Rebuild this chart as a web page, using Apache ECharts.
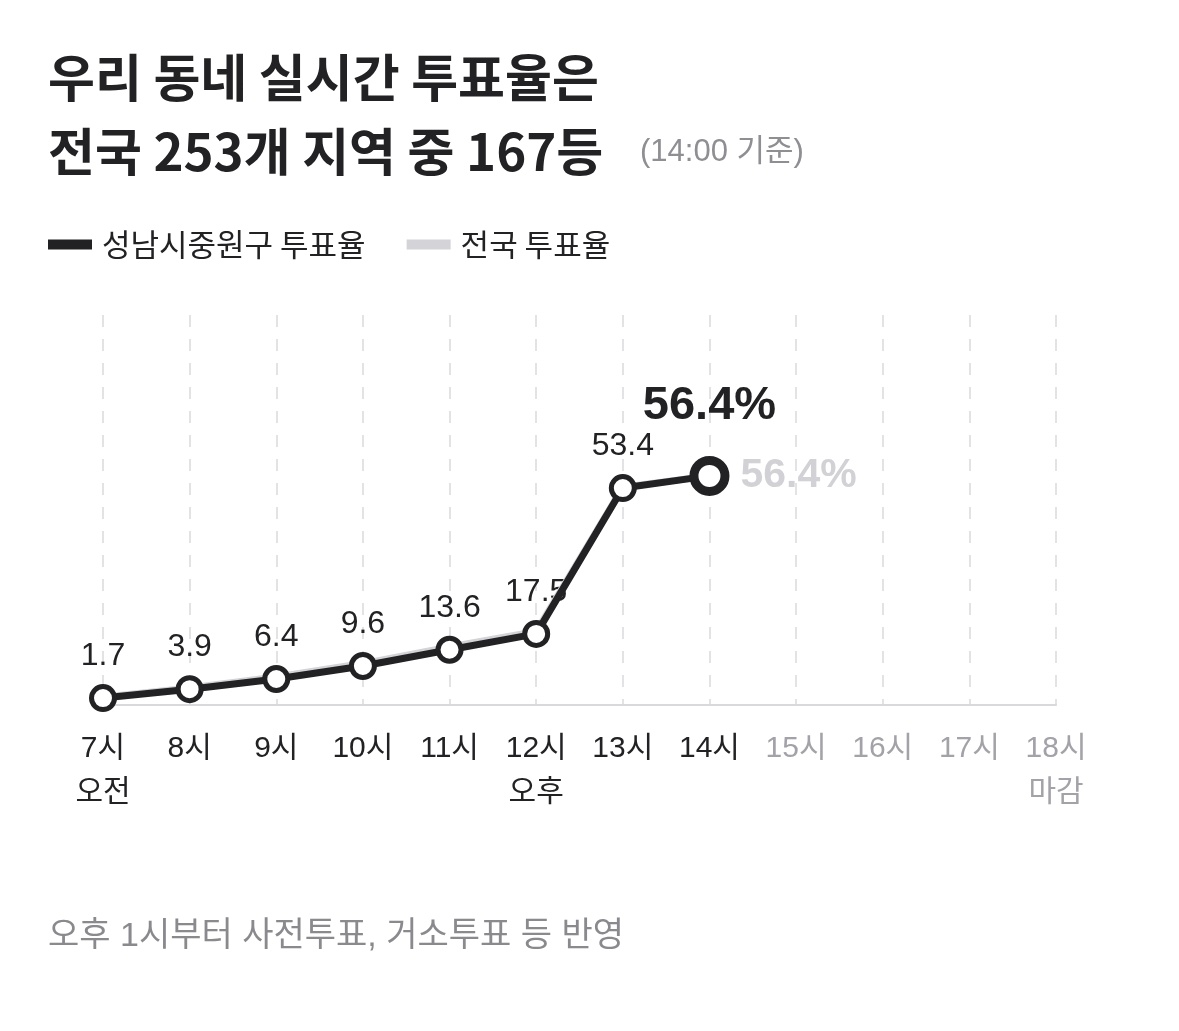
<!DOCTYPE html>
<html>
<head>
<meta charset="utf-8">
<script src="https://cdn.jsdelivr.net/npm/echarts@6/dist/echarts.min.js"></script>
<style>
  html, body { margin: 0; padding: 0; background: #fff; }
  #chart { width: 1179px; height: 1031px; }
</style>
</head>
<body>
<div id="chart"></div>
<script>
// 시간대 (x축)
const hours = ['7시', '8시', '9시', '10시', '11시', '12시', '13시', '14시', '15시', '16시', '17시', '18시'];
const subLabels = ['오전', '', '', '', '', '오후', '', '', '', '', '', '마감'];
const lastIdx = 7; // 14시 기준

// 성남시중원구 투표율
const localRate = [1.7, 3.9, 6.4, 9.6, 13.6, 17.5, 53.4, 56.4];
// 전국 투표율
const nationRate = [1.9, 4.2, 6.9, 10.2, 14.3, 18.1, 53.6, 56.4];

const FONT = '"Liberation Sans", "Noto Sans CJK KR", sans-serif';
const KFONT = '"Noto Sans CJK KR", sans-serif';
const DARK = '#222225';
const GREY_LINE = '#d4d4d8';

const chart = echarts.init(document.getElementById('chart'));

const localData = localRate.map(function (v, i) {
  if (i !== lastIdx) return v;
  return {
    value: v,
    symbolSize: 31,
    itemStyle: { borderWidth: 9 },
    label: {
      show: true,
      position: 'top',
      distance: 26,
      formatter: '{c}%',
      fontSize: 47,
      fontWeight: 'bold',
      color: DARK,
      fontFamily: FONT
    }
  };
});

const nationData = nationRate.map(function (v, i) {
  if (i !== lastIdx) return v;
  return {
    value: v,
    label: {
      show: true,
      position: 'right',
      distance: 30,
      formatter: '{c}%',
      fontSize: 41,
      fontWeight: 'bold',
      color: '#d2d2d6',
      fontFamily: FONT
    }
  };
});

// 숫자 라벨은 선 아래에 깔리도록 별도 시리즈로
const labelData = localRate.map(function (v, i) { return i === lastIdx ? '-' : v; });

const option = {
  animation: false,
  backgroundColor: '#fff',
  textStyle: { fontFamily: FONT },
  graphic: [
    {
      type: 'text', left: 48, top: 52,
      style: { text: '우리 동네 실시간 투표율은', font: 'bold 51px ' + KFONT, fill: DARK }
    },
    {
      type: 'text', left: 48, top: 126,
      style: { text: '전국 253개 지역 중 167등', font: 'bold 51px ' + KFONT, fill: DARK, letterSpacing: 2 }
    },
    {
      type: 'text', left: 640, top: 137,
      style: { text: '(14:00 기준)', font: '31px ' + FONT, fill: '#8e8e93' }
    },
    {
      type: 'text', left: 48, top: 920,
      style: { text: '오후 1시부터 사전투표, 거소투표 등 반영', font: '34px ' + FONT, fill: '#8a8a8e' }
    }
  ],
  legend: {
    left: 43,
    top: 224,
    icon: 'rect',
    itemWidth: 44,
    itemHeight: 10,
    itemGap: 41,
    textStyle: { fontSize: 31, color: DARK, fontFamily: KFONT, padding: [0, 0, 0, 5] },
    data: [
      { name: '성남시중원구 투표율', itemStyle: { color: DARK, borderWidth: 0 } },
      { name: '전국 투표율', itemStyle: { color: GREY_LINE, borderWidth: 0 } }
    ]
  },
  grid: { left: 103, right: 123, top: 315, bottom: 326 },
  xAxis: {
    type: 'category',
    boundaryGap: false,
    data: hours,
    axisTick: { show: false },
    axisLine: { show: true, lineStyle: { color: '#d9d9dd', width: 2 } },
    splitLine: {
      show: true,
      lineStyle: { color: '#e3e3e6', width: 2, type: [12, 12] }
    },
    axisLabel: {
      interval: 0,
      margin: 22,
      formatter: function (v, i) {
        const s = i <= lastIdx ? 'a' : 'g';
        const sub = subLabels[i];
        return '{' + s + '|' + v + '}' + (sub ? '\n{' + s + '|' + sub + '}' : '');
      },
      rich: {
        a: { fontSize: 30, lineHeight: 44, color: DARK, fontFamily: FONT },
        g: { fontSize: 30, lineHeight: 44, color: '#a2a2a8', fontFamily: FONT }
      }
    }
  },
  yAxis: {
    type: 'value',
    min: 0,
    max: 96,
    show: false,
    splitLine: { show: false }
  },
  series: [
    {
      name: 'labels',
      type: 'line',
      z: 1,
      data: labelData,
      symbol: 'circle',
      symbolSize: 23,
      itemStyle: { color: 'rgba(0,0,0,0)', borderWidth: 0 },
      lineStyle: { opacity: 0 },
      label: {
        show: true,
        position: 'top',
        distance: 14,
        fontSize: 32,
        color: DARK,
        fontFamily: FONT
      },
      emphasis: { disabled: true },
      silent: true
    },
    {
      name: '전국 투표율',
      type: 'line',
      z: 2,
      data: nationData,
      symbol: 'circle',
      symbolSize: 2,
      itemStyle: { color: 'rgba(0,0,0,0)', borderWidth: 0 },
      lineStyle: { color: GREY_LINE, width: 7 },
      emphasis: { disabled: true },
      silent: true
    },
    {
      name: '성남시중원구 투표율',
      type: 'line',
      z: 3,
      data: localData,
      symbol: 'circle',
      symbolSize: 23,
      itemStyle: { color: '#fff', borderColor: DARK, borderWidth: 5 },
      lineStyle: { color: DARK, width: 7 },
      emphasis: { disabled: true },
      silent: true
    }
  ]
};

chart.setOption(option);
</script>
</body>
</html>
